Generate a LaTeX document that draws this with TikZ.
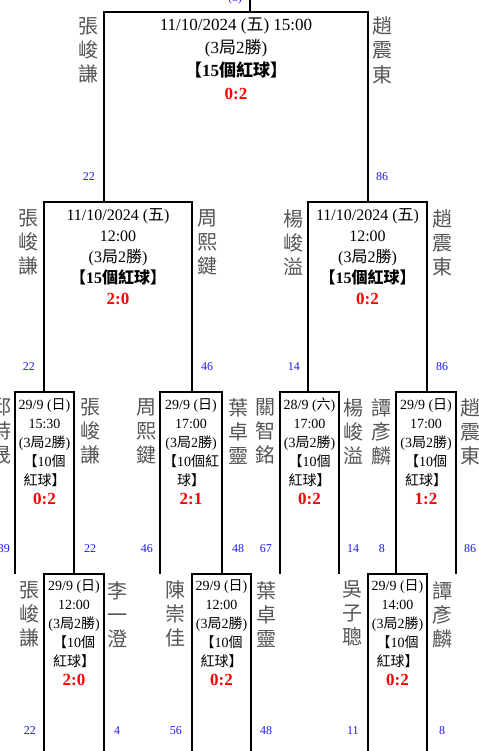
\documentclass[tikz,border=0pt]{standalone}
\usepackage{fontspec}
\setmainfont{Liberation Serif}
\newfontfamily\cjk{Noto Sans CJK TC}
\usepackage{tikz}
\usetikzlibrary{positioning}
\definecolor{namegray}{RGB}{85,85,85}
\definecolor{seedblue}{RGB}{25,25,240}
\definecolor{scorered}{RGB}{255,0,0}
\newcommand\zhtxt[1]{{\cjk #1}}
\newcommand\scoretxt[1]{{\color{scorered}\bfseries\fontsize{17bp}{19bp}\selectfont #1}}
\tikzstyle{bracket} = [line width=2.6bp, draw=black]
\tikzstyle{match} = [align=center, anchor=north, inner sep=0pt]
\tikzstyle{bigmatch} = [match, font=\fontsize{17bp}{23bp}\selectfont]
\tikzstyle{midmatch} = [match, font=\fontsize{16bp}{21bp}\selectfont]
\tikzstyle{smallmatch} = [match, font=\fontsize{14bp}{19bp}\selectfont]
\tikzstyle{player} = [align=center, anchor=north, inner sep=0pt, text=namegray, font=\cjk\fontsize{20bp}{24bp}\selectfont]
\tikzstyle{seed} = [inner sep=0pt, text=seedblue, font=\fontsize{12bp}{14bp}\selectfont]

\begin{document}
\begin{tikzpicture}[x=1bp, y=-1bp]
		\useasboundingbox (0,0) rectangle (479,751);
		% corners of the bracket
		\coordinate (champ) at (250,0);
		\coordinate (fin-l) at (104,12);
		\coordinate (fin-r) at (368,12);
		\coordinate (sfa-l) at (44,202);
		\coordinate (sfa-r) at (192,202);
		\coordinate (sfb-l) at (308,202);
		\coordinate (sfb-r) at (427,202);
		\coordinate (qfa-l) at (15,392);
		\coordinate (qfa-r) at (74,392);
		\coordinate (qfb-l) at (160,392);
		\coordinate (qfb-r) at (222,392);
		\coordinate (qfc-l) at (280,392);
		\coordinate (qfc-r) at (339,392);
		\coordinate (qfd-l) at (396,392);
		\coordinate (qfd-r) at (456,392);
		\coordinate (ra-l) at (44,574);
		\coordinate (ra-r) at (104,574);
		\coordinate (rb-l) at (192,574);
		\coordinate (rb-r) at (251,574);
		\coordinate (rc-l) at (368,574);
		\coordinate (rc-r) at (427,574);
		\coordinate (foot) at (0,751);
		\draw [bracket] (champ) -- (champ |- fin-l);
		\draw [bracket] (fin-l |- sfa-l) -- (fin-l) -- (fin-r) -- (fin-r |- sfa-l);
		\draw [bracket] (sfa-l |- qfa-l) -- (sfa-l) -- (sfa-r) -- (sfa-r |- qfa-l);
		\draw [bracket] (sfb-l |- qfa-l) -- (sfb-l) -- (sfb-r) -- (sfb-r |- qfa-l);
		\draw [bracket] (qfa-l |- ra-l) -- (qfa-l) -- (qfa-r) -- (qfa-r |- ra-l);
		\draw [bracket] (qfb-l |- ra-l) -- (qfb-l) -- (qfb-r) -- (qfb-r |- ra-l);
		\draw [bracket] (qfc-l |- ra-l) -- (qfc-l) -- (qfc-r) -- (qfc-r |- ra-l);
		\draw [bracket] (qfd-l |- ra-l) -- (qfd-l) -- (qfd-r) -- (qfd-r |- ra-l);
		\draw [bracket] (ra-l |- foot) -- (ra-l) -- (ra-r) -- (ra-r |- foot);
		\draw [bracket] (rb-l |- foot) -- (rb-l) -- (rb-r) -- (rb-r |- foot);
		\draw [bracket] (rc-l |- foot) -- (rc-l) -- (rc-r) -- (rc-r |- foot);
		\node (champS) [seed] at (235,-1.4) {(8)};
		% final
		\node (finM) [bigmatch] at (236,18) {11/10/2024 (\zhtxt{五}) 15:00\\(3\zhtxt{局}2\zhtxt{勝})\\\textbf{\zhtxt{【}15\zhtxt{個紅球】}}\\\scoretxt{0:2}};
		\node (finP1) [player, below left = 5bp and 5bp of fin-l] {張\\峻\\謙};
		\node (finP2) [player, below right = 5bp and 4bp of fin-r] {趙\\震\\東};
		\node (finS1) [seed] at (finP1 |- 0,177) {22};
		\node (finS2) [seed] at (finP2 |- 0,177) {86};
		% semi finals
		\node (sfaM) [midmatch] at (118,208.4) {11/10/2024 (\zhtxt{五})\\12:00\\(3\zhtxt{局}2\zhtxt{勝})\\\textbf{\zhtxt{【}15\zhtxt{個紅球】}}\\\scoretxt{2:0}};
		\node (sfaP1) [player, below left = 7bp and 5bp of sfa-l] {張\\峻\\謙};
		\node (sfaP2) [player, below right = 7bp and 5bp of sfa-r] {周\\熙\\鍵};
		\node (sfaS1) [seed] at (sfaP1 |- 0,367) {22};
		\node (sfaS2) [seed] at (sfaP2 |- 0,367) {46};
		\node (sfbM) [midmatch] at (367.5,208.4) {11/10/2024 (\zhtxt{五})\\12:00\\(3\zhtxt{局}2\zhtxt{勝})\\\textbf{\zhtxt{【}15\zhtxt{個紅球】}}\\\scoretxt{0:2}};
		\node (sfbP1) [player, below left = 7bp and 4bp of sfb-l] {楊\\峻\\溢};
		\node (sfbP2) [player, below right = 7bp and 5bp of sfb-r] {趙\\震\\東};
		\node (sfbS1) [seed] at (sfbP1 |- 0,367) {14};
		\node (sfbS2) [seed] at (sfbP2 |- 0,367) {86};
		% quarter finals
		\node (qfaM) [smallmatch] at (44.5,398) {29/9 (\zhtxt{日})\\15:30\\(3\zhtxt{局}2\zhtxt{勝})\\\zhtxt{【}10\zhtxt{個}\\\zhtxt{紅球】}\\\scoretxt{0:2}};
		\node (qfaP1) [player, below left = 6bp and 3bp of qfa-l] {邱\\詩\\晟};
		\node (qfaP2) [player, below right = 6bp and 6bp of qfa-r] {張\\峻\\謙};
		\node (qfaS1) [seed, xshift=2bp] at (qfaP1 |- 0,549) {39};
		\node (qfaS2) [seed] at (qfaP2 |- 0,549) {22};
		\node (qfbM) [smallmatch] at (191,398) {29/9 (\zhtxt{日})\\17:00\\(3\zhtxt{局}2\zhtxt{勝})\\\zhtxt{【}10\zhtxt{個紅}\\\zhtxt{球】}\\\scoretxt{2:1}};
		\node (qfbP1) [player, below left = 6bp and 3bp of qfb-l] {周\\熙\\鍵};
		\node (qfbP2) [player, below right = 6bp and 6bp of qfb-r] {葉\\卓\\靈};
		\node (qfbS1) [seed] at (qfbP1 |- 0,549) {46};
		\node (qfbS2) [seed] at (qfbP2 |- 0,549) {48};
		\node (qfcM) [smallmatch] at (309.5,398) {28/9 (\zhtxt{六})\\17:00\\(3\zhtxt{局}2\zhtxt{勝})\\\zhtxt{【}10\zhtxt{個}\\\zhtxt{紅球】}\\\scoretxt{0:2}};
		\node (qfcP1) [player, below left = 6bp and 4bp of qfc-l] {關\\智\\銘};
		\node (qfcP2) [player, below right = 6bp and 4bp of qfc-r] {楊\\峻\\溢};
		\node (qfcS1) [seed] at (qfcP1 |- 0,549) {67};
		\node (qfcS2) [seed] at (qfcP2 |- 0,549) {14};
		\node (qfdM) [smallmatch] at (426,398) {29/9 (\zhtxt{日})\\17:00\\(3\zhtxt{局}2\zhtxt{勝})\\\zhtxt{【}10\zhtxt{個}\\\zhtxt{紅球】}\\\scoretxt{1:2}};
		\node (qfdP1) [player, below left = 6bp and 4bp of qfd-l] {譚\\彥\\麟};
		\node (qfdP2) [player, below right = 6bp and 4bp of qfd-r] {趙\\震\\東};
		\node (qfdS1) [seed] at (qfdP1 |- 0,549) {8};
		\node (qfdS2) [seed] at (qfdP2 |- 0,549) {86};
		% first round
		\node (raM) [smallmatch] at (74,579.8) {29/9 (\zhtxt{日})\\12:00\\(3\zhtxt{局}2\zhtxt{勝})\\\zhtxt{【}10\zhtxt{個}\\\zhtxt{紅球】}\\\scoretxt{2:0}};
		\node (raP1) [player, below left = 7bp and 4bp of ra-l] {張\\峻\\謙};
		\node (raP2) [player, below right = 7bp and 3bp of ra-r] {李\\一\\澄};
		\node (raS1) [seed] at (raP1 |- 0,731) {22};
		\node (raS2) [seed] at (raP2 |- 0,731) {4};
		\node (rbM) [smallmatch] at (221.5,579.8) {29/9 (\zhtxt{日})\\12:00\\(3\zhtxt{局}2\zhtxt{勝})\\\zhtxt{【}10\zhtxt{個}\\\zhtxt{紅球】}\\\scoretxt{0:2}};
		\node (rbP1) [player, below left = 7bp and 6bp of rb-l] {陳\\崇\\佳};
		\node (rbP2) [player, below right = 7bp and 5bp of rb-r] {葉\\卓\\靈};
		\node (rbS1) [seed] at (rbP1 |- 0,731) {56};
		\node (rbS2) [seed] at (rbP2 |- 0,731) {48};
		\node (rcM) [smallmatch] at (397.5,579.8) {29/9 (\zhtxt{日})\\14:00\\(3\zhtxt{局}2\zhtxt{勝})\\\zhtxt{【}10\zhtxt{個}\\\zhtxt{紅球】}\\\scoretxt{0:2}};
		\node (rcP1) [player, below left = 7bp and 5bp of rc-l] {吳\\子\\聰};
		\node (rcP2) [player, below right = 7bp and 5bp of rc-r] {譚\\彥\\麟};
		\node (rcS1) [seed] at (rcP1 |- 0,731) {11};
		\node (rcS2) [seed] at (rcP2 |- 0,731) {8};
\end{tikzpicture}
\end{document}
